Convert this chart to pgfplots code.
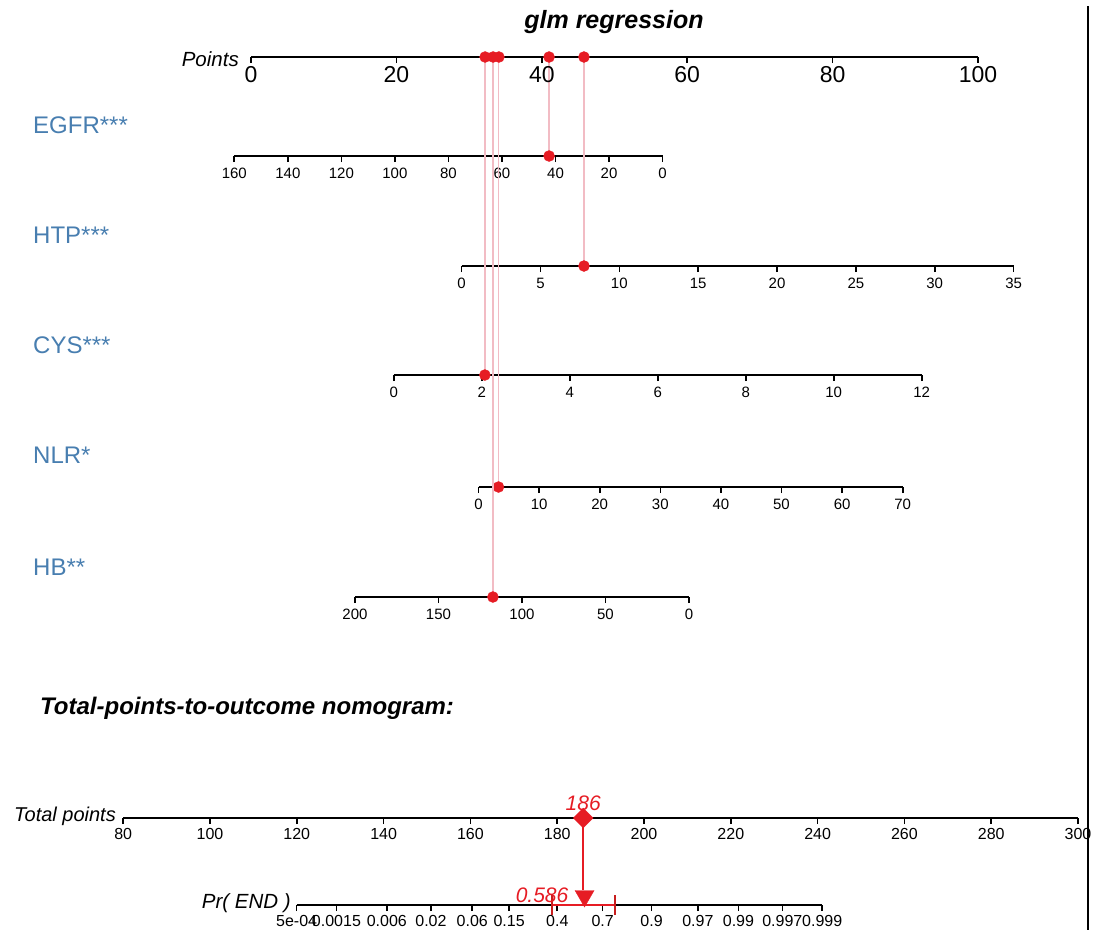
\documentclass[border=0pt]{standalone}
\usepackage{fontspec}
\setmainfont{Liberation Sans}
\usepackage{pgfplots}
\pgfplotsset{compat=1.18}

\definecolor{nred}{RGB}{230,28,36}
\definecolor{ndred}{RGB}{200,30,30}
\definecolor{npink}{RGB}{242,188,196}
\definecolor{nblue}{RGB}{72,126,176}

\pgfplotsset{
  nomo/.style={
    scale only axis, height=10pt, ymin=0, ymax=10,
    axis x line=bottom, axis y line=none,
    axis line style={-, line width=1.8pt, black},
    tick align=outside, major tick length=6pt,
    xtick style={line width=1.6pt, black},
    clip=false, anchor=south west,
  },
  varax/.style={nomo,
    xticklabel style={font=\fontsize{15}{15}\selectfont, inner sep=1pt, yshift=-5pt}},
  dot/.style={only marks, mark=*, mark size=5.5pt, color=nred, mark options={draw=nred, fill=nred}},
  pinkline/.style={color=npink, line width=1.8pt, mark=none},
}

\begin{document}
\begin{tikzpicture}
\useasboundingbox (0pt,0pt) rectangle (1093pt,-930pt);

% ---------------- variable axes ----------------
% EGFR
\begin{axis}[varax, at={(234.3pt,-156pt)}, width=428.3pt,
  xmin=0, xmax=160, x dir=reverse,
  xtick={0,20,40,60,80,100,120,140,160},
  xticklabels={0,20,40,60,80,100,120,140,160}]
\addplot[pinkline] coordinates {(42.4,0) (42.4,99)};
\addplot[dot] coordinates {(42.4,0)};
\end{axis}

% HTP
\begin{axis}[varax, at={(461.6pt,-266pt)}, width=552pt,
  xmin=0, xmax=35,
  xtick={0,5,10,15,20,25,30,35},
  xticklabels={0,5,10,15,20,25,30,35}]
\addplot[pinkline] coordinates {(7.76,0) (7.76,209)};
\addplot[dot] coordinates {(7.76,0)};
\end{axis}

% CYS
\begin{axis}[varax, at={(393.8pt,-375pt)}, width=527.9pt,
  xmin=0, xmax=12,
  xtick={0,2,4,6,8,10,12},
  xticklabels={0,2,4,6,8,10,12}]
\addplot[pinkline] coordinates {(2.07,0) (2.07,318)};
\addplot[dot] coordinates {(2.07,0)};
\end{axis}

% NLR
\begin{axis}[varax, at={(478.5pt,-487pt)}, width=424.2pt,
  xmin=0, xmax=70,
  xtick={0,10,20,30,40,50,60,70},
  xticklabels={0,10,20,30,40,50,60,70}]
\addplot[pinkline] coordinates {(3.3,0) (3.3,430)};
\addplot[dot] coordinates {(3.3,0)};
\end{axis}

% HB
\begin{axis}[varax, at={(355pt,-597pt)}, width=334pt,
  xmin=0, xmax=200, x dir=reverse,
  xtick={0,50,100,150,200},
  xticklabels={0,50,100,150,200}]
\addplot[pinkline] coordinates {(117.4,0) (117.4,540)};
\addplot[dot] coordinates {(117.4,0)};
\end{axis}

% ---------------- Points axis ----------------
\begin{axis}[nomo, at={(251pt,-57pt)}, width=727pt,
  xmin=0, xmax=100,
  xtick={0,20,40,60,80,100},
  xticklabels={0,20,40,60,80,100},
  xticklabel style={font=\fontsize{23}{23}\selectfont, inner sep=1pt, yshift=-2pt}]
\addplot[dot] coordinates {(32.2,0) (33.3,0) (34.1,0) (41.0,0) (45.8,0)};
\end{axis}

% ---------------- Total points axis ----------------
\begin{axis}[nomo, at={(123.2pt,-818pt)}, width=954.8pt,
  xmin=80, xmax=300,
  xtick={80,100,120,140,160,180,200,220,240,260,280,300},
  xticklabels={80,100,120,140,160,180,200,220,240,260,280,300},
  xticklabel style={font=\fontsize{16}{16}\selectfont, inner sep=1pt, yshift=-3pt}]
\addplot[color=nred, line width=1.8pt] coordinates {(186,0) (186,-72)};
\addplot[only marks, mark=square*, mark size=7pt, color=nred,
  mark options={rotate=45, draw=nred, fill=nred}] coordinates {(186,0)};
\node[text=nred, font=\fontsize{21}{21}\selectfont\itshape] at (axis cs:186,15) {186};
\end{axis}

% ---------------- Pr(END) axis (logit scale) ----------------
\begin{axis}[nomo, at={(296.6pt,-905pt)}, width=525.6pt,
  xmin=-7.6004, xmax=6.9068,
  xtick={-7.6004,-6.5007,-5.1101,-3.8918,-2.7515,-1.7346,-0.4055,0.8473,2.1972,3.4761,4.5951,5.8061,6.9068},
  xticklabels={5e-04,0.0015,0.006,0.02,0.06,0.15,0.4,0.7,0.9,0.97,0.99,0.997,0.999},
  xticklabel style={font=\fontsize{16}{16}\selectfont, inner sep=1pt, yshift=-3pt}]
\addplot[color=nred, line width=2.6pt] coordinates {(-0.54,0) (1.19,0)};
\addplot[color=ndred, line width=2pt] coordinates {(-0.54,-10) (-0.54,10)};
\addplot[color=ndred, line width=2pt] coordinates {(1.19,-10) (1.19,10)};
\addplot[only marks, mark=triangle*, mark size=11pt, color=nred,
  mark options={rotate=180, draw=nred, fill=nred}] coordinates {(0.3474,9)};
\node[text=nred, anchor=east, inner sep=0pt, font=\fontsize{21}{21}\selectfont\itshape]
  at (axis cs:0.3474,10) [xshift=-16pt] {0.586};
\end{axis}

% ---------------- text labels ----------------
\node[font=\fontsize{25}{25}\selectfont\bfseries\itshape] at (614pt,-22pt) {glm regression};
\node[anchor=east, inner sep=0pt, font=\fontsize{20.5}{20.5}\selectfont\itshape] at (239pt,-59pt) {Points};

\node[anchor=west, inner sep=0pt, text=nblue, font=\fontsize{24}{24}\selectfont] at (33pt,-125pt) {EGFR***};
\node[anchor=west, inner sep=0pt, text=nblue, font=\fontsize{24}{24}\selectfont] at (33pt,-235pt) {HTP***};
\node[anchor=west, inner sep=0pt, text=nblue, font=\fontsize{24}{24}\selectfont] at (33pt,-345pt) {CYS***};
\node[anchor=west, inner sep=0pt, text=nblue, font=\fontsize{24}{24}\selectfont] at (33pt,-455pt) {NLR*};
\node[anchor=west, inner sep=0pt, text=nblue, font=\fontsize{24}{24}\selectfont] at (33pt,-567pt) {HB**};

\node[anchor=west, inner sep=0pt, font=\fontsize{24}{24}\selectfont\bfseries\itshape] at (40pt,-708pt) {Total-points-to-outcome nomogram:};
\node[anchor=east, inner sep=0pt, font=\fontsize{20}{20}\selectfont\itshape] at (116pt,-816pt) {Total points};
\node[anchor=east, inner sep=0pt, font=\fontsize{20.5}{20.5}\selectfont\itshape] at (291pt,-903pt) {Pr( END )};

% right frame line
\draw[line width=2.5pt] (1088pt,-6pt) -- (1088pt,-930pt);
\end{tikzpicture}
\end{document}
